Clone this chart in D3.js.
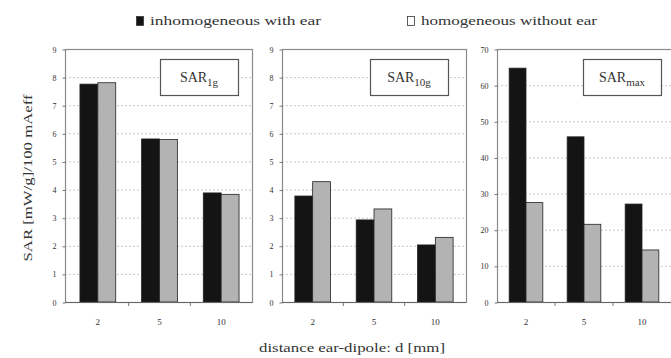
<!DOCTYPE html>
<html>
<head>
<meta charset="utf-8">
<script src="https://cdn.jsdelivr.net/npm/d3@7"></script>
<style>
  body { margin: 0; background: #fff; }
  svg text { font-family: "Liberation Serif", "DejaVu Serif", serif; fill: #333; }
</style>
</head>
<body>
<div id="chart"></div>
<script>
// categories and values
var distances = ["2", "5", "10"];
var seriesNames = ["inhomogeneous with ear", "homogeneous without ear"];

var sar1gInhom = [7.75, 5.8, 3.88],
    sar1gHom = [7.8, 5.78, 3.83];
var sar10gInhom = [3.77, 2.92, 2.03],
    sar10gHom = [4.28, 3.31, 2.3];
var sarMaxInhom = [64.7, 45.7, 27.1],
    sarMaxHom = [27.5, 21.5, 14.4];

var panelTitles = [["SAR", "1g"], ["SAR", "10g"], ["SAR", "max"]];
var panelMax = [9, 9, 70];
var panelStep = [1, 1, 10];

var width = 671, height = 358,
    plotTop = 49, plotBottom = 302;

var serif = "Liberation Serif, DejaVu Serif, serif";

var panels = [
    {left: 65, right: 252, bandLeft: 67, bandRight: 252, inhom: sar1gInhom, hom: sar1gHom},
    {left: 282, right: 466, bandLeft: 282, bandRight: 466, inhom: sar10gInhom, hom: sar10gHom},
    {left: 497, right: 684, bandLeft: 497, bandRight: 671, inhom: sarMaxInhom, hom: sarMaxHom}
];

var colors = ["#141414", "#b3b3b3"];

var svg = d3.select("#chart").append("svg")
    .attr("width", width)
    .attr("height", height);

panels.forEach(function(p, i) {
    var g = svg.append("g");

    var y = d3.scaleLinear()
        .domain([0, panelMax[i]])
        .range([plotBottom, plotTop]);

    var x0 = d3.scaleBand()
        .domain(distances)
        .range([p.bandLeft, p.bandRight])
        .paddingInner(0.42)
        .paddingOuter(0.21);

    var x1 = d3.scaleBand()
        .domain(seriesNames)
        .range([0, x0.bandwidth()]);

    var ticks = d3.range(0, panelMax[i] + panelStep[i] / 2, panelStep[i]);

    // dotted gridlines
    g.selectAll(".grid")
        .data(ticks.slice(1, -1))
        .enter().append("line")
        .attr("x1", p.left).attr("x2", p.right)
        .attr("y1", function(d) { return y(d) + 0.5; })
        .attr("y2", function(d) { return y(d) + 0.5; })
        .attr("stroke", "#c8c8c8")
        .attr("stroke-dasharray", "2,2");

    // frame
    g.append("rect")
        .attr("x", p.left + 0.5).attr("y", plotTop + 0.5)
        .attr("width", p.right - p.left).attr("height", plotBottom - plotTop)
        .attr("fill", "none")
        .attr("stroke", "#8a8a8a")
        .attr("stroke-width", 1.2);

    // y axis
    var yAxis = d3.axisLeft(y)
        .tickValues(ticks)
        .tickSize(3)
        .tickPadding(6);
    var ya = g.append("g")
        .attr("transform", "translate(" + (p.left + 0.5) + ",0.5)")
        .call(yAxis);
    ya.select(".domain").remove();
    ya.selectAll("line").attr("stroke", "#777");
    ya.selectAll("text")
        .attr("font-family", serif)
        .attr("font-size", 8)
        .attr("fill", "#444");

    // x axis labels
    var xAxis = d3.axisBottom(x0).tickSize(0).tickPadding(17);
    var xa = g.append("g")
        .attr("transform", "translate(0," + plotBottom + ")")
        .call(xAxis);
    xa.select(".domain").remove();
    xa.selectAll("text")
        .attr("font-family", serif)
        .attr("font-size", 9)
        .attr("fill", "#444");

    // small x ticks between groups
    var gap = (x0.step() - x0.bandwidth());
    g.selectAll(".xsep")
        .data(distances.slice(1))
        .enter().append("line")
        .attr("x1", function(d) { return x0(d) - gap / 2; })
        .attr("x2", function(d) { return x0(d) - gap / 2; })
        .attr("y1", plotBottom).attr("y2", plotBottom + 4)
        .attr("stroke", "#777");

    // bars
    var rows = distances.map(function(d, j) {
        return {cat: d, vals: [p.inhom[j], p.hom[j]]};
    });
    var grp = g.selectAll(".group")
        .data(rows)
        .enter().append("g")
        .attr("transform", function(d) { return "translate(" + x0(d.cat) + ",0)"; });
    grp.selectAll("rect")
        .data(function(d) { return d.vals.map(function(v, k) { return {name: seriesNames[k], v: v, k: k}; }); })
        .enter().append("rect")
        .attr("x", function(d) { return x1(d.name); })
        .attr("y", function(d) { return y(d.v); })
        .attr("width", x1.bandwidth())
        .attr("height", function(d) { return plotBottom - y(d.v); })
        .attr("fill", function(d) { return colors[d.k]; })
        .attr("stroke", "#222")
        .attr("stroke-width", 0.8);

    // panel label box
    var bx = [160, 370, 583][i];
    g.append("rect")
        .attr("x", bx + 0.5).attr("y", 59.5)
        .attr("width", 78).attr("height", 36)
        .attr("fill", "#fff")
        .attr("stroke", "#555")
        .attr("stroke-width", 1.2);
    var t = g.append("text")
        .attr("x", bx + 39).attr("y", 82)
        .attr("text-anchor", "middle")
        .attr("font-family", serif)
        .attr("font-size", 14);
    t.append("tspan").text(panelTitles[i][0]);
    t.append("tspan")
        .attr("dy", 4)
        .attr("font-size", 11)
        .text(panelTitles[i][1]);

    // x-axis baseline
    g.append("line")
        .attr("x1", p.left).attr("x2", p.right)
        .attr("y1", plotBottom + 0.5).attr("y2", plotBottom + 0.5)
        .attr("stroke", "#666");
});

// legend (the scanned text is wide, so stretch it to its measured length)
var legend = svg.append("g");
var legendX = [136, 407],
    legendLen = [171, 176];
seriesNames.forEach(function(name, k) {
    legend.append("rect")
        .attr("x", legendX[k] + 0.5).attr("y", 16.5)
        .attr("width", 7).attr("height", 9)
        .attr("fill", k === 0 ? colors[0] : "#fff")
        .attr("stroke", "#333")
        .attr("stroke-width", 0.8);
    legend.append("text")
        .attr("x", legendX[k] + 14).attr("y", 25)
        .attr("font-family", "Liberation Serif")
        .attr("font-size", 13)
        .attr("fill", "#444")
        .attr("textLength", legendLen[k])
        .attr("lengthAdjust", "spacingAndGlyphs")
        .text(name);
});

// axis titles
svg.append("text")
    .attr("transform", "translate(32,178) rotate(-90)")
    .attr("text-anchor", "middle")
    .attr("font-family", "Liberation Serif")
    .attr("font-size", 13)
    .attr("fill", "#444")
    .attr("textLength", 167)
    .attr("lengthAdjust", "spacingAndGlyphs")
    .text("SAR [mW/g]/100 mAeff");

svg.append("text")
    .attr("x", 352).attr("y", 352)
    .attr("text-anchor", "middle")
    .attr("font-family", "Liberation Serif")
    .attr("font-size", 13)
    .attr("fill", "#444")
    .attr("textLength", 186)
    .attr("lengthAdjust", "spacingAndGlyphs")
    .text("distance ear-dipole: d [mm]");
</script>
</body>
</html>
